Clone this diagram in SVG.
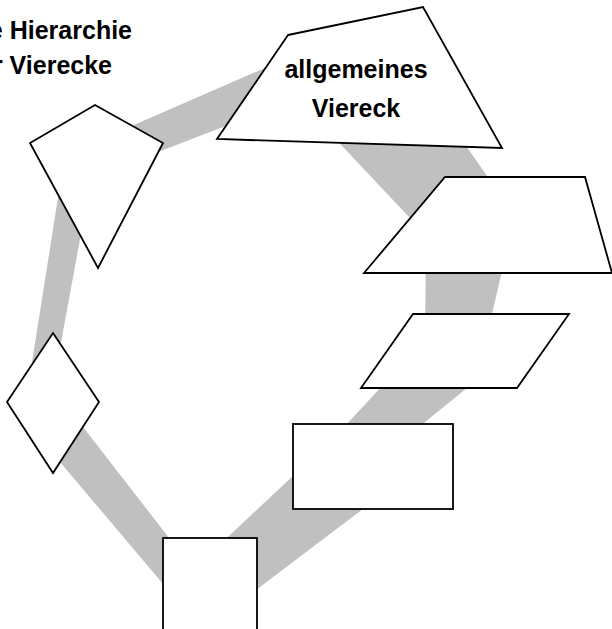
<svg xmlns="http://www.w3.org/2000/svg" width="612" height="629" viewBox="0 0 612 629">
  <style>
    .band { fill: #c0c0c0; stroke: none; }
    .shape { fill: #ffffff; stroke: #000000; stroke-width: 1.8; stroke-linejoin: miter; }
    .title { font-family: "Liberation Sans", Arial, sans-serif; font-weight: bold; font-size: 25px; fill: #000000; }
  </style>
  <rect x="0" y="0" width="612" height="629" fill="#ffffff"/>
  <g id="connectors">
    <polygon class="band" points="120,131 290,57 290,101 140,159"/>
    <polygon class="band" points="60,185 90,185 55,375 30,375"/>
    <polygon class="band" points="83,427 60,462 180,604 180,552"/>
    <polygon class="band" points="215,549 310,460 400,481 240,602"/>
    <polygon class="band" points="332,440 397,370 489,370 403,440"/>
    <polygon class="band" points="426,250 507,250 487,335 425,335"/>
    <polygon class="band" points="327,130 455,130 528,235 426,235"/>
  </g>
  <g id="title">
    <text class="title" x="132" y="39" text-anchor="end">e Hierarchie</text>
    <text class="title" x="112" y="74" text-anchor="end">r Vierecke</text>
  </g>
  <g id="allgemeines-viereck">
    <polygon class="shape" points="288,35 423,7 502,148 217,139"/>
    <text class="title" x="356" y="78" text-anchor="middle">allgemeines</text>
    <text class="title" x="356" y="117" text-anchor="middle">Viereck</text>
  </g>
  <g id="drachenviereck">
    <polygon class="shape" points="95,105 163,143 98,268 30,143"/>
  </g>
  <g id="raute">
    <polygon class="shape" points="53,333 99,402 53,473 7,402"/>
  </g>
  <g id="quadrat">
    <rect class="shape" x="163" y="538" width="94" height="94"/>
  </g>
  <g id="rechteck">
    <rect class="shape" x="293" y="424" width="160" height="85"/>
  </g>
  <g id="parallelogramm">
    <polygon class="shape" points="413,314 569,314 517,388 361,388"/>
  </g>
  <g id="trapez">
    <polygon class="shape" points="445,177 585,177 612,273 364,273"/>
  </g>
</svg>
